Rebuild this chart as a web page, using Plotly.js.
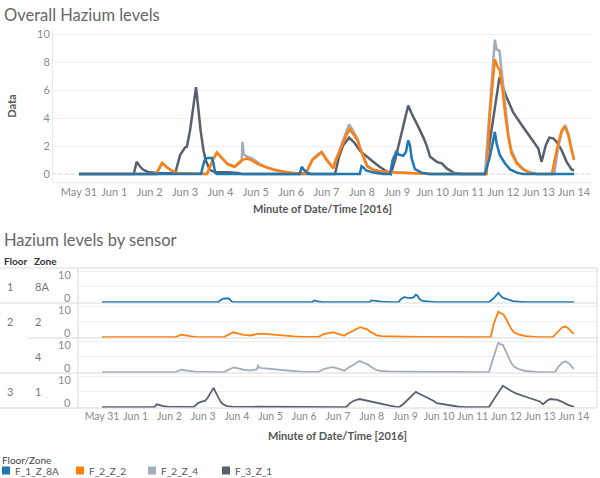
<!DOCTYPE html>
<html>
<head>
<meta charset="utf-8">
<script src="https://cdn.plot.ly/plotly-3.0.1.min.js"></script>
<style>html,body{margin:0;padding:0;background:#fff;}#chart{width:600px;height:478px;}</style>
</head>
<body>
<div id="chart"></div>
<script>
// ---- data (time = days after 2016-05-31 00:00) ----
const seriesNames = ['F_1_Z_8A', 'F_2_Z_2', 'F_2_Z_4', 'F_3_Z_1'];
const seriesColors = ['#1f77b4', '#ff7f0e', '#a3acb9', '#57606c'];
const tickLabels = ['May 31','Jun 1','Jun 2','Jun 3','Jun 4','Jun 5','Jun 6','Jun 7','Jun 8','Jun 9','Jun 10','Jun 11','Jun 12','Jun 13','Jun 14'];

const f1z8aT = [0, 3.45, 3.5, 3.55, 3.6, 3.65, 3.76, 3.8, 3.85, 3.9, 6.24, 6.3, 6.36, 6.45, 6.55, 7.94, 7.99, 8.05, 8.12, 8.3, 8.6, 8.8, 8.87, 8.98, 9.03, 9.17, 9.25, 9.31, 9.36, 9.41, 9.5, 9.69, 9.9, 11.48, 11.62, 11.76, 11.81, 11.9, 12.05, 12.19, 12.38, 12.55, 14.0];
const f1z8aV = [0, 0, 0.5, 0.95, 1.1, 1.15, 1.15, 0.8, 0.1, 0, 0, 0.52, 0.3, 0.1, 0, 0, 0.55, 0.45, 0.25, 0.12, 0, 0, 1.0, 1.65, 1.4, 1.3, 1.6, 2.4, 2.05, 1.1, 0.35, 0.1, 0, 0, 1.23, 3.0, 2.2, 1.35, 0.75, 0.33, 0.1, 0, 0];

const f2z2T = [0, 2.18, 2.35, 2.5, 2.65, 2.8, 3.0, 3.55, 3.62, 3.7, 3.8, 3.9, 4.0, 4.1, 4.2, 4.3, 4.4, 4.5, 4.6, 4.75, 4.9, 5.1, 5.3, 5.5, 5.7, 5.9, 6.1, 6.42, 6.5, 6.6, 6.72, 6.86, 7.0, 7.1, 7.19, 7.26, 7.33, 7.45, 7.55, 7.66, 7.75, 7.88, 7.95, 8.04, 8.15, 8.3, 8.5, 9.0, 9.5, 9.95, 11.53, 11.62, 11.76, 11.83, 11.9, 11.98, 12.05, 12.14, 12.23, 12.38, 12.57, 12.75, 12.95, 13.37, 13.51, 13.65, 13.74, 13.84, 13.93, 14.0];
const f2z2V = [0, 0, 0.8, 0.45, 0.2, 0.08, 0.05, 0.02, 0, 0.5, 1.1, 1.55, 1.25, 0.95, 0.7, 0.6, 0.5, 0.75, 1.0, 1.1, 0.95, 0.65, 0.45, 0.3, 0.2, 0.1, 0.05, 0.05, 0.5, 1.0, 1.25, 1.55, 1.0, 0.7, 0.4, 1.0, 1.35, 2.1, 2.7, 3.2, 2.9, 2.4, 1.8, 1.2, 0.55, 0.3, 0.2, 0.1, 0.05, 0, 0, 4.3, 8.2, 7.7, 7.4, 6.0, 4.3, 2.65, 1.47, 0.75, 0.3, 0.1, 0, 0, 1.7, 3.1, 3.4, 2.75, 1.7, 1.04];

const f2z4T = [0, 2.18, 2.35, 2.5, 2.65, 2.8, 3.0, 3.55, 3.62, 3.7, 3.8, 3.9, 4.0, 4.1, 4.2, 4.3, 4.4, 4.5, 4.6, 4.625, 4.66, 4.75, 4.9, 5.1, 5.3, 5.5, 5.7, 5.9, 6.1, 6.42, 6.5, 6.6, 6.72, 6.86, 7.0, 7.1, 7.19, 7.26, 7.33, 7.45, 7.55, 7.64, 7.75, 7.88, 7.95, 8.04, 8.15, 8.3, 8.5, 9.0, 9.5, 9.95, 11.48, 11.62, 11.76, 11.81, 11.89, 11.95, 12.05, 12.14, 12.23, 12.38, 12.57, 12.75, 12.95, 13.44, 13.55, 13.65, 13.75, 13.85, 13.94, 14.0];
const f2z4V = [0, 0, 0.75, 0.45, 0.2, 0.08, 0.05, 0.02, 0, 0.45, 1.05, 1.5, 1.25, 0.95, 0.75, 0.65, 0.55, 0.7, 0.9, 2.3, 1.4, 1.25, 1.1, 0.75, 0.5, 0.35, 0.2, 0.1, 0.05, 0.05, 0.5, 1.05, 1.35, 1.6, 1.1, 0.75, 0.45, 1.05, 1.45, 2.3, 3.0, 3.55, 3.1, 2.5, 1.9, 1.25, 0.6, 0.35, 0.2, 0.1, 0.05, 0, 0, 5.0, 9.6, 8.9, 8.8, 7.4, 4.8, 2.9, 1.7, 0.85, 0.35, 0.12, 0, 0, 1.9, 3.0, 3.5, 2.8, 1.7, 1.0];

const f3z1T = [0, 1.55, 1.63, 1.72, 1.82, 1.95, 2.2, 2.72, 2.78, 2.86, 3.0, 3.05, 3.14, 3.23, 3.31, 3.37, 3.44, 3.52, 3.58, 3.7, 3.85, 4.2, 4.5, 4.6, 7.24, 7.35, 7.47, 7.64, 7.8, 7.95, 8.14, 8.32, 8.5, 8.7, 8.82, 8.94, 9.03, 9.12, 9.22, 9.31, 9.41, 9.5, 9.6, 9.74, 9.83, 9.93, 10.12, 10.26, 10.4, 10.59, 10.8, 11.48, 11.62, 11.79, 11.89, 12.09, 12.28, 12.52, 12.75, 12.99, 13.08, 13.2, 13.3, 13.41, 13.51, 13.65, 13.79, 13.93, 14.0];
const f3z1V = [0, 0, 0.87, 0.55, 0.3, 0.15, 0.08, 0.05, 0.6, 1.35, 1.9, 1.95, 3.1, 4.8, 6.2, 4.8, 3.1, 1.7, 1.0, 0.3, 0.12, 0.12, 0.08, 0, 0, 1.2, 2.05, 2.6, 2.2, 1.65, 1.23, 0.87, 0.52, 0.16, 0, 1.0, 1.94, 3.1, 4.06, 4.9, 4.3, 3.8, 3.35, 2.6, 2.05, 1.23, 0.87, 0.76, 0.4, 0.1, 0, 0, 2.4, 5.0, 6.9, 5.5, 4.4, 3.5, 2.65, 1.82, 0.87, 2.05, 2.6, 2.55, 2.3, 1.7, 0.87, 0.33, 0.25];

const seriesT = [f1z8aT, f2z2T, f2z4T, f3z1T];
const seriesV = [f1z8aV, f2z2V, f2z4V, f3z1V];

// ---- helpers ----
const DAY0 = Date.UTC(2016, 4, 31);
function toDate(d) {
  return new Date(DAY0 + d * 86400000).toISOString().slice(0, 19).replace('T', ' ');
}
const W = 600, H = 478;
const px = v => v / W;
const py = v => 1 - v / H;
const FONT = 'Lato, "Open Sans", "DejaVu Sans", sans-serif';
const tickVals = tickLabels.map((_, i) => toDate(i));

// ---- traces ----
const traces = [];
const drawOrder = [3, 2, 1, 0];
drawOrder.forEach(i => {
  traces.push({
    x: seriesT[i].map(toDate), y: seriesV[i], xaxis: 'x', yaxis: 'y',
    type: 'scatter', mode: 'lines', name: seriesNames[i],
    line: { color: seriesColors[i], width: 2.5 }, hoverinfo: 'skip', showlegend: false
  });
});
seriesNames.forEach((n, i) => {
  traces.push({
    x: seriesT[i].map(toDate), y: seriesV[i], xaxis: 'x' + (i + 2), yaxis: 'y' + (i + 2),
    type: 'scatter', mode: 'lines', name: n,
    line: { color: seriesColors[i], width: 1.8 }, hoverinfo: 'skip', showlegend: false
  });
});

// ---- layout ----
const gridC = '#efefef', borderC = '#d9d9d9';
const layout = {
  width: W, height: H, margin: { l: 0, r: 0, t: 0, b: 0 },
  paper_bgcolor: '#ffffff', plot_bgcolor: 'rgba(0,0,0,0)',
  showlegend: false, font: { family: FONT, size: 11, color: '#888' },
  xaxis: {
    domain: [px(53), px(592)], anchor: 'y', type: 'date',
    range: [toDate(-0.735), toDate(14.508)],
    tickvals: tickVals, ticktext: tickLabels, ticks: '', tickangle: 0,
    showgrid: false, zeroline: false, showline: true, linecolor: '#eeeeee',
    tickfont: { family: FONT, size: 11, color: '#8a8a8a' },
    title: { text: 'Minute of Date/Time [2016]', font: { family: FONT, size: 11, color: '#555', weight: 'bold' }, standoff: 8 }
  },
  yaxis: {
    domain: [py(182), py(30)], anchor: 'x', range: [-0.571, 10.29],
    tickvals: [0, 2, 4, 6, 8, 10], ticks: '',
    showgrid: true, gridcolor: gridC, zeroline: false, showline: true, linecolor: '#e8e8e8',
    tickfont: { family: FONT, size: 11, color: '#8a8a8a' },
    title: { text: 'Data', font: { family: FONT, size: 11, color: '#555', weight: 'bold' }, standoff: 18 }
  },
  shapes: [], annotations: []
};

const panelTops = [268, 303, 338, 373];
for (let k = 0; k < 4; k++) {
  const ax = k + 2;
  const last = k === 3;
  layout['xaxis' + ax] = {
    domain: [px(78), px(597)], anchor: 'y' + ax, type: 'date',
    range: [toDate(-0.712), toDate(14.684)],
    tickvals: tickVals, ticktext: tickLabels, ticks: '', tickangle: 0,
    showticklabels: last, showgrid: false, zeroline: false, showline: false,
    tickfont: { family: FONT, size: 10.5, color: '#8a8a8a' }
  };
  if (last) {
    layout['xaxis' + ax].title = { text: 'Minute of Date/Time [2016]', font: { family: FONT, size: 11, color: '#555', weight: 'bold' }, standoff: 11 };
  }
  layout['yaxis' + ax] = {
    domain: [py(panelTops[k] + 35), py(panelTops[k])], anchor: 'x' + ax,
    range: [-0.3, 11.0], tickvals: [0, 5, 10], showticklabels: false, ticks: '',
    showgrid: true, gridcolor: gridC, zeroline: false, showline: false
  };
  // tick labels nudged inside the pane, Tableau style
  layout.annotations.push(
    { text: '10', xref: 'paper', yref: 'y' + ax, x: px(73), y: 10, yshift: -3, xanchor: 'right', yanchor: 'middle', showarrow: false, font: { family: FONT, size: 11, color: '#8a8a8a' } },
    { text: '0', xref: 'paper', yref: 'y' + ax, x: px(73), y: 0, yshift: 5, xanchor: 'right', yanchor: 'middle', showarrow: false, font: { family: FONT, size: 11, color: '#8a8a8a' } }
  );
}

// zero reference line (dotted) in overview
layout.shapes.push({ type: 'line', xref: 'paper', yref: 'y', x0: px(53), x1: px(592), y0: 0, y1: 0, line: { color: '#c8c8c8', width: 1, dash: 'dot' }, layer: 'below' });

// table borders
const hLines = [[0, 268], [0, 303], [28, 338], [0, 373], [0, 408]];
hLines.forEach(([x0, y]) => layout.shapes.push({ type: 'line', xref: 'paper', yref: 'paper', x0: px(x0), x1: px(597), y0: py(y), y1: py(y), line: { color: borderC, width: 1 } }));
[78, 597].forEach(x => layout.shapes.push({ type: 'line', xref: 'paper', yref: 'paper', x0: px(x), x1: px(x), y0: py(268), y1: py(408), line: { color: borderC, width: 1 } }));

// titles & headers
function txt(t, x, y, size, color, bold, anchor) {
  layout.annotations.push({ text: t, xref: 'paper', yref: 'paper', x: px(x), y: py(y), xanchor: anchor || 'left', yanchor: 'middle', showarrow: false, font: { family: FONT, size: size, color: color, weight: bold ? 'bold' : 'normal' } });
}
txt('Overall Hazium levels', 2, 15, 16.5, '#666', false);
txt('Hazium levels by sensor', 2, 240, 16.5, '#666', false);
txt('Floor', 2, 261, 10, '#333', true);
txt('Zone', 32, 261, 10, '#333', true);
const rowFloor = [['1', 286], ['2', 321], ['3', 391]];
const rowZone = [['8A', 286], ['2', 321], ['4', 356], ['1', 391]];
rowFloor.forEach(([t, y]) => txt(t, 5, y, 11, '#777', false));
rowZone.forEach(([t, y]) => txt(t, 33, y, 11, '#777', false));

// legend
txt('Floor/Zone', 0, 460, 10, '#444', false);
const legX = [2, 76, 148, 222];
seriesNames.forEach((n, i) => {
  layout.shapes.push({ type: 'rect', xref: 'paper', yref: 'paper', x0: px(legX[i]), x1: px(legX[i] + 8), y0: py(474.5), y1: py(466.5), fillcolor: seriesColors[i], line: { width: 0 } });
  txt(n, legX[i] + 11, 471, 10, '#555', false);
});

Plotly.newPlot('chart', traces, layout, { displayModeBar: false, staticPlot: true });
</script>
</body>
</html>
